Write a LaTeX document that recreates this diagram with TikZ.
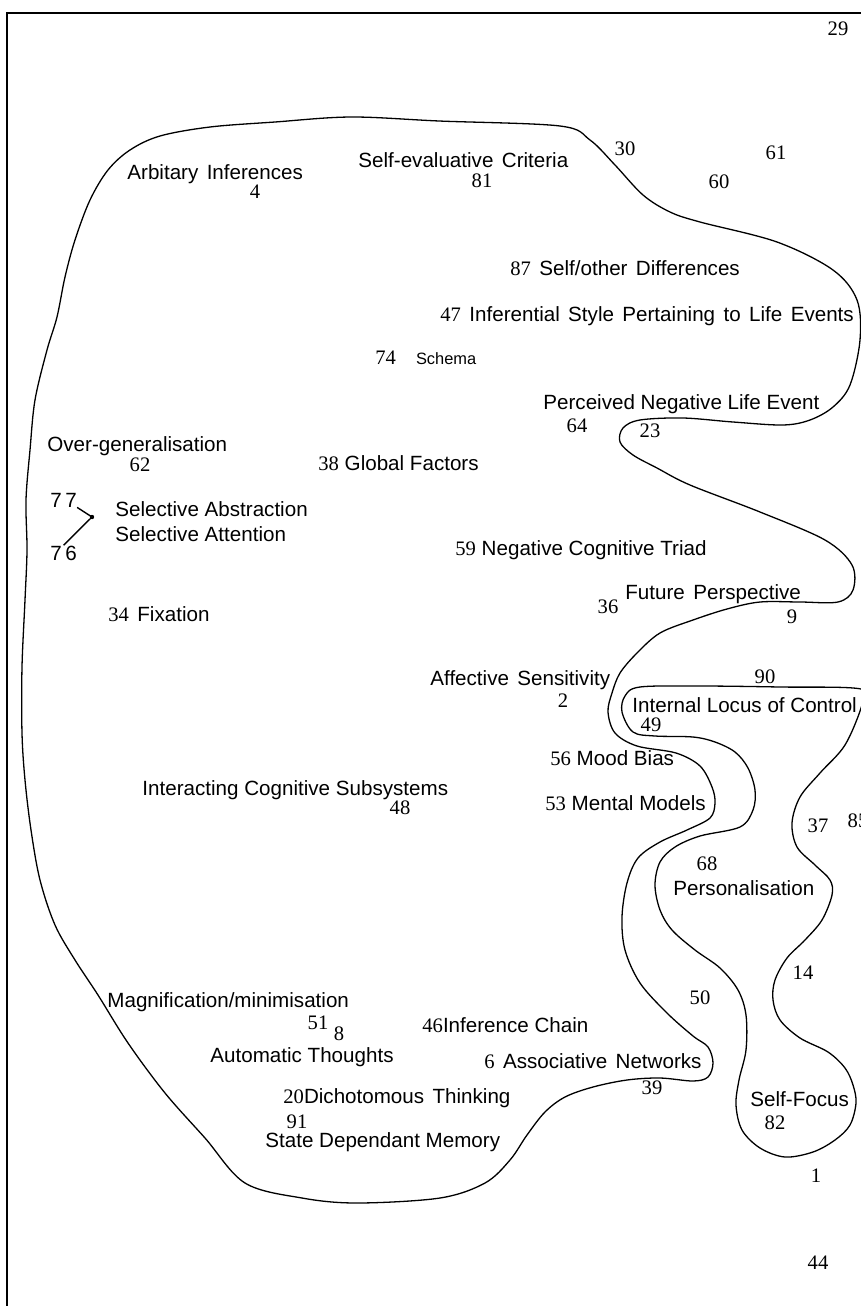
\documentclass[tikz,border=0pt]{standalone}
\usepackage{fontspec}
\setmainfont{Liberation Serif}
\setsansfont{Liberation Sans}
\usepackage{tikz}

\begin{document}
\begin{tikzpicture}[x=0.5pt, y=-0.5pt,
    num/.style={font={\rmfamily\fontsize{10.3}{12}\selectfont}, inner sep=0pt, anchor=base},
    lbl/.style={font={\sffamily\fontsize{10.3}{12}\selectfont}, inner sep=0pt, anchor=base west},
    wide/.style={lbl, font={\sffamily\fontsize{10.3}{12}\selectfont\spaceskip=4.2pt plus 1pt\relax}},
    loop/.style={line width=0.65pt, line join=round}]
\useasboundingbox (0,0) rectangle (861,1306);
\draw[line width=1pt] (7,1306) -- (7,13) -- (861,13);

\draw[loop] plot[smooth cycle, tension=0.55] coordinates {
  (130,150) (160,136) (210,127) (275,122) (351,117) (439,121) (560,126) (590,140)
  (615,165) (643,195) (670,212) (700,222) (777,242) (833,270) (857,300) (860,340)
  (850,385) (833,407) (810,420) (783,425) (733,422) (683,418) (640,420) (623,428)
  (620,442) (633,455) (657,468) (690,485) (760,512) (825,540) (852,565) (853,590)
  (838,602) (800,602) (760,602) (727,609) (693,620) (660,633) (637,653) (620,673)
  (612,693) (608,712) (615,733) (637,746) (676,753) (700,766) (712,787) (715,803)
  (710,818) (687,830) (660,842) (638,858) (627,883) (622,917) (625,950) (640,983)
  (667,1013) (693,1036) (708,1047) (713,1063) (708,1077) (693,1081) (660,1078)
  (627,1080) (593,1087) (565,1097) (545,1112) (527,1135) (510,1160) (485,1183)
  (440,1198) (357,1203) (302,1198) (245,1183) (205,1138) (165,1093) (128,1043)
  (98,995) (75,960) (55,925) (40,880) (31,830) (25,780) (22,733) (22,667)
  (25,600) (27,550) (26,500) (30,450) (35,400) (47,350) (57,317) (65,277)
  (75,240) (90,200) (108,170)};
\draw[loop] plot[smooth cycle, tension=0.55] coordinates {
  (640,687) (700,686) (780,687) (861,689) (862,705) (845,745) (820,773) (800,797)
  (792,823) (797,847) (815,865) (830,880) (832,895) (822,920) (805,940) (787,958)
  (775,980) (773,1000) (780,1020) (800,1038) (828,1052) (845,1068) (853,1085)
  (856,1103) (850,1125) (835,1140) (813,1152) (785,1157) (760,1148) (742,1130)
  (736,1105) (739,1080) (746,1050) (746,1015) (738,990) (720,968) (695,950)
  (672,930) (660,910) (655,885) (660,862) (675,847) (700,836) (740,827) (753,810)
  (755,790) (748,768) (735,752) (715,742) (693,737) (655,736) (633,732) (622,712)
  (625,696)};

\node[num] (n29) at (838,35) {29};
\node[num] (n30) at (625,155) {30};
\node[num] (n61) at (776,159) {61};
\node[num] (n60) at (719,188) {60};
\node[wide] (arbitary) at (127,179) {Arbitary Inferences};
\node[num] (n4) at (255,198) {4};
\node[wide] (selfeval) at (358,167) {Self-evaluative Criteria};
\node[num] (n81) at (482,187) {81};
\node[wide] (selfother) at (510,275) {{\rmfamily 87} Self/other Differences};
\node[wide] (infstyle) at (440,321) {{\rmfamily 47} Inferential Style Pertaining to Life Events};
\node[lbl] (schema) at (375,364) {{\rmfamily 74}\hspace{10pt}{\fontsize{8.2}{9}\selectfont Schema}};
\node[lbl] (negevent) at (543,409) {Perceived Negative Life Event};
\node[num] (n64) at (577,432) {64};
\node[num] (n23) at (650,437) {23};
\node[lbl] (overgen) at (47,451) {Over-generalisation};
\node[num] (n62) at (140,471) {62};
\node[lbl] (global) at (318,470) {{\rmfamily 38} Global Factors};
\node[lbl] (n77) at (50,507) {7\,7};
\node[lbl] (n76) at (50,560) {7\,6};
\node[lbl] (selabs) at (115,516) {Selective Abstraction};
\node[lbl] (selatt) at (115,541) {Selective Attention};
\node[lbl] (triad) at (455,555) {{\rmfamily 59} Negative Cognitive Triad};
\node[wide] (fixation) at (108,621) {{\rmfamily 34} Fixation};
\node[num] (n36) at (608,613) {36};
\node[wide] (future) at (625,599) {Future Perspective};
\node[num] (n9) at (792,623) {9};
\node[wide] (affect) at (430,685) {Affective Sensitivity};
\node[num] (n2) at (563,707) {2};
\node[num] (n90) at (765,683) {90};
\node[lbl] (locus) at (632,712) {Internal Locus of Control};
\node[num] (n49) at (651,731) {49};
\node[lbl] (mood) at (550,765) {{\rmfamily 56} Mood Bias};
\node[lbl] (ics) at (142,795) {Interacting Cognitive Subsystems};
\node[num] (n48) at (400,814) {48};
\node[lbl] (mental) at (545,810) {{\rmfamily 53} Mental Models};
\node[num] (n37) at (818,832) {37};
\node[num] (n85) at (858,827) {85};
\node[num] (n68) at (707,870) {68};
\node[lbl] (person) at (673,895) {Personalisation};
\node[num] (n14) at (803,979) {14};
\node[num] (n50) at (700,1004) {50};
\node[lbl] (magmin) at (107,1007) {Magnification/minimisation};
\node[num] (n51) at (318,1029) {51};
\node[num] (n8) at (339,1040) {8};
\node[lbl] (infchain) at (422,1032) {{\rmfamily 46}Inference Chain};
\node[lbl] (autothought) at (210,1062) {Automatic Thoughts};
\node[wide] (assoc) at (484,1068) {{\rmfamily 6} Associative Networks};
\node[num] (n39) at (652,1094) {39};
\node[wide] (dichot) at (283,1103) {{\rmfamily 20}Dichotomous Thinking};
\node[num] (n91) at (297,1128) {91};
\node[lbl] (statemem) at (265,1147) {State Dependant Memory};
\node[lbl] (selffocus) at (750,1106) {Self-Focus};
\node[num] (n82) at (775,1129) {82};
\node[num] (n1) at (816,1182) {1};
\node[num] (n44) at (818,1269) {44};

\coordinate (dot) at (92,517);
\fill (dot) circle (1.1pt);
\draw[line width=0.7pt] (n77.south east) -- (dot) -- (n76.north);
\end{tikzpicture}
\end{document}
